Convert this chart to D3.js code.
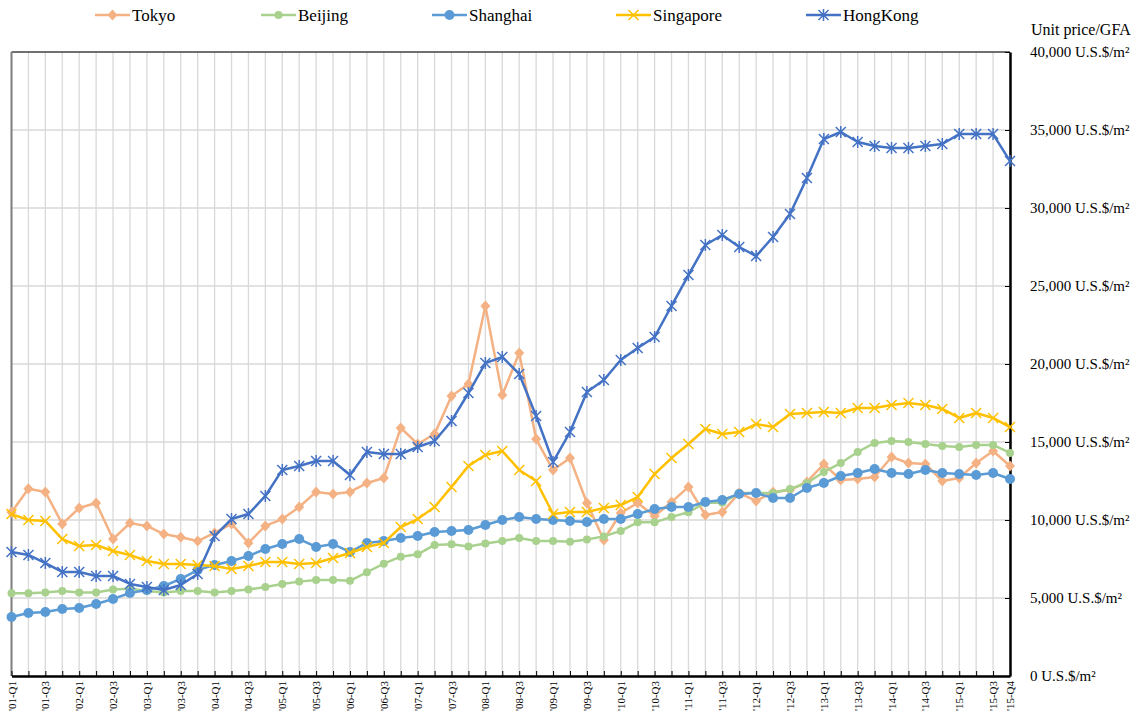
<!DOCTYPE html>
<html>
<head>
<meta charset="utf-8">
<style>
body { margin: 0; background: #fff; }
#chart { width: 1137px; height: 717px; }
text { font-family: "Liberation Serif", "Times New Roman", serif; fill: #000; }
</style>
</head>
<body>
<div id="chart"></div>
<script src="https://d3js.org/d3.v7.min.js"></script>
<script>

// quarter labels
var quarters = [
  "'01-Q1","'01-Q2","'01-Q3","'01-Q4","'02-Q1","'02-Q2","'02-Q3","'02-Q4",
  "'03-Q1","'03-Q2","'03-Q3","'03-Q4","'04-Q1","'04-Q2","'04-Q3","'04-Q4",
  "'05-Q1","'05-Q2","'05-Q3","'05-Q4","'06-Q1","'06-Q2","'06-Q3","'06-Q4",
  "'07-Q1","'07-Q2","'07-Q3","'07-Q4","'08-Q1","'08-Q2","'08-Q3","'08-Q4",
  "'09-Q1","'09-Q2","'09-Q3","'09-Q4","'10-Q1","'10-Q2","'10-Q3","'10-Q4",
  "'11-Q1","'11-Q2","'11-Q3","'11-Q4","'12-Q1","'12-Q2","'12-Q3","'12-Q4",
  "'13-Q1","'13-Q2","'13-Q3","'13-Q4","'14-Q1","'14-Q2","'14-Q3","'14-Q4",
  "'15-Q1","'15-Q2","'15-Q3","'15-Q4"
];

// which quarters get a tick label
var labelledQuarters = [
  "'01-Q1","'01-Q3","'02-Q1","'02-Q3","'03-Q1","'03-Q3","'04-Q1","'04-Q3",
  "'05-Q1","'05-Q3","'06-Q1","'06-Q3","'07-Q1","'07-Q3","'08-Q1","'08-Q3",
  "'09-Q1","'09-Q3","'10-Q1","'10-Q3","'11-Q1","'11-Q3","'12-Q1","'12-Q3",
  "'13-Q1","'13-Q3","'14-Q1","'14-Q3","'15-Q1","'15-Q3","'15-Q4"
];

var yTicks = [0, 5000, 10000, 15000, 20000, 25000, 30000, 35000, 40000];

var tokyo = [10500, 12000, 11800, 9750, 10770, 11090, 8780, 9800, 9620, 9100,
  8900, 8650, 9170, 9750, 8530, 9620, 10060, 10830, 11800, 11670,
  11800, 12370, 12690, 15900, 14870, 15510, 17950, 18720, 23720, 18010,
  20700, 15190, 13200, 13970, 11090, 8720, 10450, 11090, 10260, 11150,
  12120, 10320, 10510, 11730, 11220, 11790, 11920, 12440, 13590, 12560,
  12630, 12760, 14040, 13650, 13590, 12500, 12690, 13650, 14420, 13460];

var beijing = [5300, 5300, 5350, 5450, 5350, 5350, 5550, 5600, 5450, 5350,
  5450, 5450, 5350, 5450, 5550, 5700, 5900, 6050, 6150, 6150,
  6100, 6650, 7200, 7650, 7800, 8400, 8450, 8300, 8500, 8650,
  8850, 8650, 8650, 8600, 8750, 8950, 9300, 9850, 9850, 10200,
  10500, 11100, 11100, 11730, 11730, 11730, 11990, 12370, 13080, 13650,
  14360, 14940, 15060, 15000, 14870, 14740, 14680, 14810, 14810, 14300];

var shanghai = [3780, 4040, 4100, 4290, 4360, 4620, 4940, 5320, 5510, 5770,
  6220, 6790, 7120, 7370, 7690, 8140, 8460, 8780, 8270, 8460,
  7950, 8530, 8650, 8850, 8970, 9230, 9290, 9360, 9680, 10000,
  10190, 10060, 10000, 9940, 9870, 10060, 10060, 10380, 10700, 10830,
  10830, 11150, 11280, 11670, 11730, 11410, 11410, 12050, 12370, 12820,
  13010, 13270, 13010, 12950, 13200, 13010, 12950, 12880, 13010, 12630];

var singapore = [10380, 10000, 9940, 8780, 8330, 8400, 8010, 7760, 7370, 7180,
  7180, 7120, 7050, 6860, 7050, 7310, 7310, 7180, 7240, 7560,
  7880, 8270, 8530, 9550, 10060, 10830, 12120, 13460, 14170, 14420,
  13210, 12500, 10380, 10510, 10510, 10770, 10960, 11470, 12950, 13970,
  14870, 15830, 15510, 15640, 16150, 15960, 16790, 16860, 16920, 16860,
  17180, 17180, 17370, 17500, 17370, 17120, 16540, 16860, 16540, 15960];

var hongkong = [7950, 7760, 7240, 6670, 6670, 6410, 6410, 5900, 5700, 5510,
  5830, 6540, 8970, 10060, 10380, 11540, 13210, 13460, 13780, 13780,
  12880, 14360, 14230, 14230, 14680, 15060, 16350, 18140, 20060, 20450,
  19360, 16670, 13720, 15640, 18200, 18970, 20260, 21030, 21730, 23720,
  25700, 27630, 28270, 27500, 26920, 28140, 29620, 31920, 34420, 34870,
  34230, 33970, 33850, 33850, 33970, 34100, 34740, 34740, 34740, 33010];

var seriesNames = ["Tokyo", "Beijing", "Shanghai", "Singapore", "HongKong"];
var seriesColors = ["#F4B183", "#A9D18E", "#5B9BD5", "#FFC000", "#4472C4"];
var seriesMarkers = ["diamond", "dot", "circle", "cross", "star"];
var seriesValues = [tokyo, beijing, shanghai, singapore, hongkong];
var legendX = [95, 261, 432, 616, 806];

var W = 1137, H = 717;
var plotLeft = 11.5, plotRight = 1010, plotTop = 52, plotBottom = 676;

var svg = d3.select("#chart").append("svg")
    .attr("width", W)
    .attr("height", H);

var x = d3.scalePoint().domain(quarters).range([plotLeft, plotRight]);
var y = d3.scaleLinear().domain([0, 40000]).range([plotBottom, plotTop]);

// vertical gridlines
svg.append("g").selectAll("line")
    .data(quarters)
  .enter().append("line")
    .attr("x1", function(d) { return x(d); })
    .attr("x2", function(d) { return x(d); })
    .attr("y1", plotTop)
    .attr("y2", plotBottom)
    .attr("stroke", "#d9d9d9")
    .attr("stroke-width", 1.3);

// horizontal gridlines
svg.append("g").selectAll("line")
    .data(yTicks)
  .enter().append("line")
    .attr("x1", plotLeft)
    .attr("x2", plotRight)
    .attr("y1", function(d) { return y(d); })
    .attr("y2", function(d) { return y(d); })
    .attr("stroke", function(d) { return d === 40000 ? "#404040" : "#d9d9d9"; })
    .attr("stroke-width", function(d) { return d === 40000 ? 1.5 : 1.3; });

// left edge
svg.append("line")
    .attr("x1", plotLeft).attr("x2", plotLeft)
    .attr("y1", plotTop).attr("y2", plotBottom)
    .attr("stroke", "#7f7f7f")
    .attr("stroke-width", 2);

// bottom axis
var xAxis = svg.append("g")
    .attr("transform", "translate(0," + plotBottom + ")")
    .call(d3.axisBottom(x)
      .tickSizeInner(-5)
      .tickSizeOuter(0)
      .tickFormat(function(d) { return labelledQuarters.indexOf(d) >= 0 ? d : ""; }));
xAxis.select(".domain").attr("stroke", "#000").attr("stroke-width", 2.5);
xAxis.selectAll(".tick line").attr("stroke", "#000").attr("stroke-width", 1);
xAxis.selectAll(".tick text")
    .attr("font-family", "Liberation Serif")
    .attr("font-size", 11)
    .attr("fill", "#000")
    .attr("transform", "rotate(-90)")
    .attr("text-anchor", "end")
    .attr("dy", "0.32em")
    .attr("x", -5)
    .attr("y", 0);

// right axis
var yAxis = svg.append("g")
    .attr("transform", "translate(" + plotRight + ",0)")
    .call(d3.axisRight(y)
      .tickValues(yTicks)
      .tickSizeInner(-5)
      .tickSizeOuter(0)
      .tickPadding(20)
      .tickFormat(function(d) { return d3.format(",")(d) + " U.S.$/m²"; }));
yAxis.select(".domain").attr("stroke", "#000").attr("stroke-width", 2.5);
yAxis.selectAll(".tick line").attr("stroke", "#000");
yAxis.selectAll(".tick text")
    .attr("font-family", "Liberation Serif")
    .attr("font-size", 15)
    .attr("fill", "#000");

svg.append("text")
    .attr("x", 1031)
    .attr("y", 35)
    .attr("font-size", 16)
    .text("Unit price/GFA");

function drawMarker(g, type, color, cx, cy) {
  if (type === "diamond") {
    g.append("path")
      .attr("d", "M" + cx + "," + (cy - 5.5) + "L" + (cx + 5) + "," + cy +
                 "L" + cx + "," + (cy + 5.5) + "L" + (cx - 5) + "," + cy + "Z")
      .attr("fill", color);
  } else if (type === "dot") {
    g.append("circle").attr("cx", cx).attr("cy", cy).attr("r", 4).attr("fill", color);
  } else if (type === "circle") {
    g.append("circle").attr("cx", cx).attr("cy", cy).attr("r", 5).attr("fill", color);
  } else if (type === "cross") {
    g.append("path")
      .attr("d", "M" + (cx - 5) + "," + (cy - 5) + "L" + (cx + 5) + "," + (cy + 5) +
                 "M" + (cx - 5) + "," + (cy + 5) + "L" + (cx + 5) + "," + (cy - 5))
      .attr("stroke", color).attr("stroke-width", 1.5).attr("fill", "none");
  } else if (type === "star") {
    g.append("path")
      .attr("d", "M" + (cx - 5) + "," + (cy - 5) + "L" + (cx + 5) + "," + (cy + 5) +
                 "M" + (cx - 5) + "," + (cy + 5) + "L" + (cx + 5) + "," + (cy - 5) +
                 "M" + cx + "," + (cy - 6) + "L" + cx + "," + (cy + 6))
      .attr("stroke", color).attr("stroke-width", 1.5).attr("fill", "none");
  }
}

var line = d3.line()
    .x(function(d, i) { return x(quarters[i]); })
    .y(function(d) { return y(d); });

seriesValues.forEach(function(vals, s) {
  var g = svg.append("g");
  g.append("path")
      .datum(vals)
      .attr("d", line)
      .attr("fill", "none")
      .attr("stroke", seriesColors[s])
      .attr("stroke-width", 2.5)
      .attr("stroke-linejoin", "round");
  vals.forEach(function(v, i) {
    drawMarker(g, seriesMarkers[s], seriesColors[s], x(quarters[i]), y(v));
  });
});

// legend
seriesNames.forEach(function(name, s) {
  var g = svg.append("g");
  var lx = legendX[s];
  g.append("line")
      .attr("x1", lx).attr("x2", lx + 35)
      .attr("y1", 15).attr("y2", 15)
      .attr("stroke", seriesColors[s])
      .attr("stroke-width", 2.5);
  drawMarker(g, seriesMarkers[s], seriesColors[s], lx + 17.5, 15);
  g.append("text")
      .attr("x", lx + 37)
      .attr("y", 21)
      .attr("font-size", 17)
      .text(name);
});

</script>
</body>
</html>
